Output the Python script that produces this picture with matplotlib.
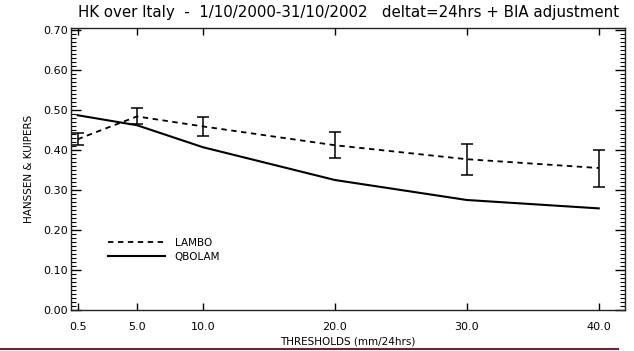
import matplotlib
matplotlib.use("Agg")
import matplotlib.pyplot as plt
from matplotlib.lines import Line2D
from matplotlib.ticker import MultipleLocator, FormatStrFormatter

# thresholds (mm/24hrs)
thresholds = [0.5, 5.0, 10.0, 20.0, 30.0, 40.0]
threshold_labels = ["0.5", "5.0", "10.0", "20.0", "30.0", "40.0"]

# Hanssen & Kuipers scores
lambo_hk = [0.427, 0.484, 0.459, 0.412, 0.377, 0.355]
lambo_lo = [0.412, 0.464, 0.435, 0.380, 0.337, 0.308]
lambo_hi = [0.442, 0.504, 0.483, 0.444, 0.415, 0.400]
qbolam_hk = [0.487, 0.462, 0.407, 0.325, 0.275, 0.254]

fig = plt.figure(figsize=(6.34, 3.51), dpi=100)
ax = fig.add_axes([0.112, 0.117, 0.874, 0.803])

err = [[c - l for c, l in zip(lambo_hk, lambo_lo)],
       [h - c for c, h in zip(lambo_hk, lambo_hi)]]
ax.errorbar(thresholds, lambo_hk, yerr=err, color="black", lw=1.3,
            ls=(0, (3, 2.5)), capsize=4.3, elinewidth=1.1, capthick=1.1,
            label="LAMBO")
ax.plot(thresholds, qbolam_hk, color="black", lw=1.5, label="QBOLAM")

ax.set_xlim(0, 42)
ax.set_ylim(0, 0.705)
ax.set_xticks(thresholds)
ax.set_xticklabels(threshold_labels)
ax.yaxis.set_major_locator(MultipleLocator(0.1))
ax.yaxis.set_minor_locator(MultipleLocator(0.01))
ax.yaxis.set_major_formatter(FormatStrFormatter("%.2f"))

ax.tick_params(axis="x", which="major", direction="in", top=True, bottom=True,
               length=5, width=1, labelsize=8, pad=9)
ax.tick_params(axis="y", which="major", direction="in", left=True, right=True,
               length=7, width=1, labelsize=8, pad=2)
ax.tick_params(axis="y", which="minor", direction="in", left=True, right=True,
               length=3.5, width=0.8)
for s in ax.spines.values():
    s.set_linewidth(1)
    s.set_color("#222222")

ax.set_title("HK over Italy  -  1/10/2000-31/10/2002   deltat=24hrs + BIA adjustment",
             fontsize=10.8, pad=8)
ax.set_xlabel("THRESHOLDS (mm/24hrs)", fontsize=7.5, labelpad=3)
ax.set_ylabel("HANSSEN & KUIPERS", fontsize=7.5, labelpad=7)

handles = [Line2D([], [], color="black", lw=1.3, ls=(0, (3, 2.5))),
           Line2D([], [], color="black", lw=1.5)]
ax.legend(handles, ["LAMBO", "QBOLAM"], loc="upper left",
          bbox_to_anchor=(0.05, 0.29), frameon=False, fontsize=7.5,
          handlelength=5.5, handletextpad=0.9, labelspacing=0.4)

fig.add_artist(Line2D([0, 0.975], [0.005, 0.005], color="#7a1f2b", lw=1.5,
                      transform=fig.transFigure))

fig.savefig("out.png", dpi=100)
